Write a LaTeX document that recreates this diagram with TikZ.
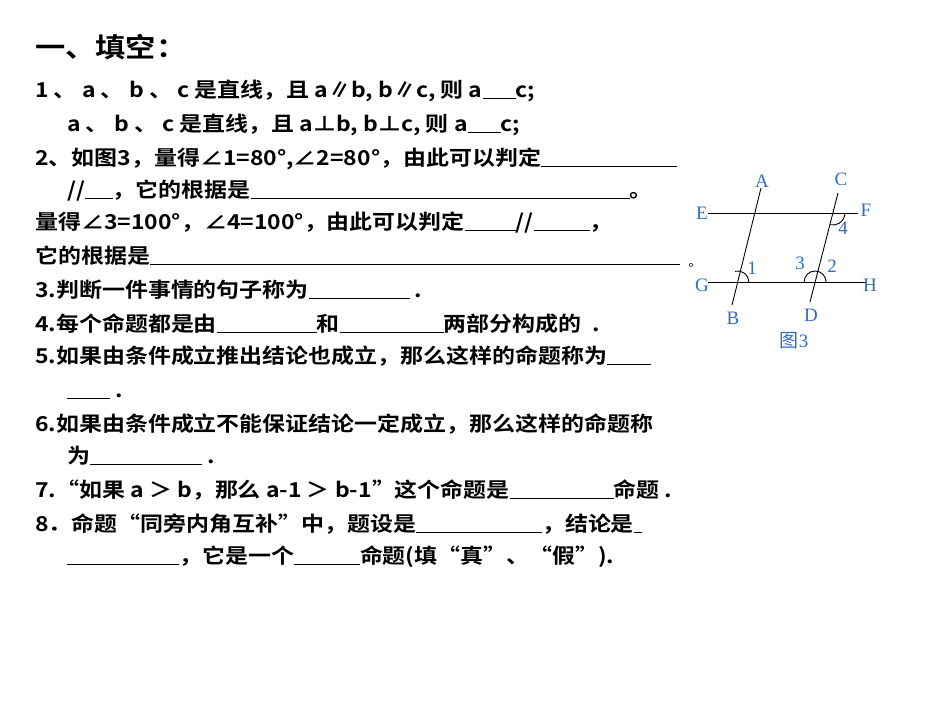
\documentclass[tikz,border=0pt]{standalone}
\usepackage{fontspec}
\setmainfont{Noto Sans CJK SC}[BoldFont={* Bold},FakeStretch=1.12]
\newfontfamily\figfont{Liberation Serif}
\newfontfamily\figcjk{Noto Sans CJK SC}
\definecolor{figblue}{RGB}{50,110,190}
\newcommand{\bl}[1]{\rule[-2pt]{#1pt}{1.3pt}}
\begin{document}
\begin{tikzpicture}[x=1pt,y=-1pt,
  txt/.style={anchor=base west,inner sep=0,font=\fontsize{20.5}{21}\selectfont\bfseries},
  lbl/.style={text=figblue,font=\figfont\fontsize{19}{20}\selectfont,inner sep=0},
  geo/.style={line width=0.9pt}]
\useasboundingbox (0,0) rectangle (950,713);
\node[txt,font=\fontsize{27}{28}\selectfont\bfseries] (t0) at (35,57) {一、填空：};
\node[txt] (t1) at (35,97) {1 、 a 、 b 、 c 是直线，且 a∥b, b∥c, 则 a\bl{33}c;};
\node[txt] (t2) at (67,131) {a 、 b 、 c 是直线，且 a⊥b, b⊥c, 则 a\bl{33}c;};
\node[txt] (t3) at (35,165) {2、如图3，量得∠1=80°,∠2=80°，由此可以判定\bl{136}};
\node[txt] (t4) at (67,197) {//\bl{28}，它的根据是\bl{379}。};
\node[txt] (t5) at (35,229) {量得∠3=100°，∠4=100°，由此可以判定\bl{51}//\bl{56}，};
\node[txt] (t6) at (35,263) {它的根据是\bl{530}};
\node[anchor=base,inner sep=0,font=\fontsize{12}{12}\selectfont] (dot) at (695,266) {。};
\node[txt] (t7) at (35,297) {3.判断一件事情的句子称为\bl{101} .};
\node[txt] (t8) at (35,331) {4.每个命题都是由\bl{100}和\bl{104}两部分构成的\ \ .};
\node[txt] (t9) at (35,363) {5.如果由条件成立推出结论也成立，那么这样的命题称为\bl{44}};
\node[txt] (t10) at (67,397) {\bl{43} .};
\node[txt] (t11) at (35,431) {6.如果由条件成立不能保证结论一定成立，那么这样的命题称};
\node[txt] (t12) at (67,463) {为\bl{112} .};
\node[txt] (t13) at (35,497) {7.“如果 a ＞ b，那么 a-1 ＞ b-1”这个命题是\bl{104}命题 .};
\node[txt] (t14) at (35,531) {8．命题“同旁内角互补”中，题设是\bl{126}，结论是\bl{8}};
\node[txt] (t15) at (67,563) {\bl{112}，它是一个\bl{66}命题(填“真”、“假”).};
% figure
\coordinate (Ae) at (761,188); \coordinate (Be) at (732,305);
\coordinate (Ce) at (838,193); \coordinate (De) at (810,302);
\coordinate (Ee) at (708,213); \coordinate (Fe) at (858,213);
\coordinate (Ge) at (708,282); \coordinate (He) at (866,282);
\coordinate (P1) at (737.7,282); \coordinate (P2) at (815.1,282); \coordinate (P4) at (832.9,213);
\draw[geo] (Ae) -- (Be); \draw[geo] (Ce) -- (De);
\draw[geo] (Ee) -- (Fe); \draw[geo] (Ge) -- (He);
\draw[geo] ([shift={(0:11)}]P1) arc[start angle=0,end angle=-104,radius=11];
\draw[geo] ([shift={(0:11)}]P2) arc[start angle=0,end angle=-180,radius=11];
\draw[geo] ([shift={(0:12)}]P4) arc[start angle=0,end angle=104,radius=12];
\node[lbl] (A) at (762,181) {A}; \node[lbl] (B) at (733,318) {B};
\node[lbl] (C) at (841,179) {C}; \node[lbl] (D) at (811,315) {D};
\node[lbl] (E) at (702,213) {E}; \node[lbl] (F) at (866,210) {F};
\node[lbl] (G) at (702,285) {G}; \node[lbl] (H) at (870,285) {H};
\node[lbl] (n1) at (752,268) {1}; \node[lbl] (n2) at (832,266) {2};
\node[lbl] (n3) at (800,263) {3}; \node[lbl] (n4) at (843,228) {4};
\node[lbl,font=\figcjk\fontsize{19}{20}\selectfont] (cap) at (794,341) {图\figfont 3};
\end{tikzpicture}
\end{document}
